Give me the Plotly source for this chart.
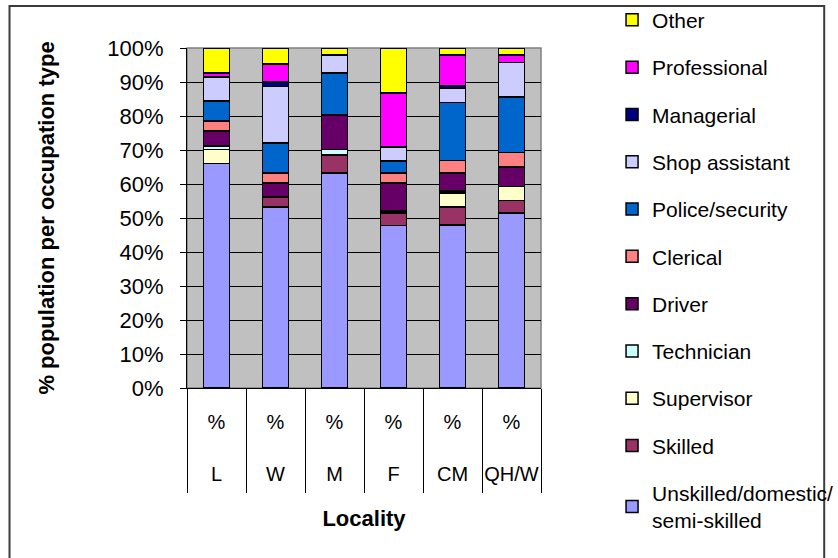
import plotly.graph_objects as go

categories = ["L", "W", "M", "F", "CM", "QH/W"]
row_label = "%"

unskilled = [66.1, 53.2, 63.3, 47.8, 48.0, 51.5]
skilled = [0.0, 3.0, 5.2, 3.7, 5.2, 3.6]
supervisor = [4.0, 0.0, 0.0, 0.5, 4.2, 4.1]
technician = [1.1, 0.0, 1.7, 0.0, 0.5, 0.0]
driver = [4.4, 4.1, 10.1, 8.3, 5.4, 5.8]
clerical = [2.9, 3.0, 0.0, 3.0, 3.6, 4.2]
police = [5.9, 8.8, 12.4, 3.4, 17.1, 16.4]
shop_assistant = [7.1, 16.6, 5.3, 4.2, 4.1, 10.1]
managerial = [0.0, 1.3, 0.0, 0.0, 0.7, 0.0]
professional = [1.2, 5.3, 0.0, 15.9, 9.2, 2.3]
other = [7.3, 4.7, 2.0, 13.2, 2.0, 2.0]

series = [
    ("Unskilled/domestic/<br>semi-skilled", unskilled, "#9999FF"),
    ("Skilled", skilled, "#993366"),
    ("Supervisor", supervisor, "#FFFFCC"),
    ("Technician", technician, "#CCFFFF"),
    ("Driver", driver, "#660066"),
    ("Clerical", clerical, "#FF8080"),
    ("Police/security", police, "#0066CC"),
    ("Shop assistant", shop_assistant, "#CCCCFF"),
    ("Managerial", managerial, "#000080"),
    ("Professional", professional, "#FF00FF"),
    ("Other", other, "#FFFF00"),
]

FONT = "Liberation Sans, Arial, sans-serif"
FS = 22

fig = go.Figure()
n = len(series)
for i, (name, vals, color) in enumerate(series):
    fig.add_trace(go.Bar(
        x=categories, y=vals, name=name,
        marker=dict(color=color, line=dict(color="black", width=1.5)),
        width=0.44, legendgroup="g%d" % i, legendrank=100 + (n - i),
    ))

fig.update_layout(
    width=838, height=558,
    barmode="stack",
    paper_bgcolor="white",
    plot_bgcolor="#C0C0C0",
    margin=dict(l=187, r=297, t=48, b=170, autoexpand=False),
    font=dict(family=FONT, size=FS, color="black"),
    showlegend=True,
    legend=dict(
        x=1.2007, y=1.142, xanchor="left", yanchor="top",
        traceorder="grouped", tracegroupgap=17, maxheight=600,
        font=dict(family=FONT, size=21, color="black"),
        bgcolor="rgba(0,0,0,0)",
    ),
    xaxis=dict(
        type="category",
        tickmode="array", tickvals=categories,
        ticktext=[row_label + "<br><br>" + c for c in categories],
        tickangle=0,
        tickson="boundaries", ticks="outside", ticklen=104,
        tickcolor="black", tickwidth=1,
        ticklabelstandoff=16,
        showline=True, linecolor="black", linewidth=1,
        showgrid=False,
        title=dict(text="<b>Locality</b>", font=dict(size=FS), standoff=26),
        tickfont=dict(size=20),
    ),
    yaxis=dict(
        range=[0, 100], dtick=10, ticksuffix="%",
        ticks="outside", ticklen=6, tickcolor="black",
        ticklabelstandoff=12,
        showline=True, linecolor="black", linewidth=1,
        showgrid=True, gridcolor="black", gridwidth=1,
        zeroline=False,
        title=dict(text="<b>% population per occupation type</b>", font=dict(size=FS), standoff=46),
        tickfont=dict(size=FS),
    ),
    shapes=[
        dict(type="rect", xref="paper", yref="paper", x0=0, x1=1, y0=0, y1=1,
             line=dict(color="#808080", width=1.5), layer="below"),
        dict(type="rect", xref="paper", yref="paper", x0=-0.5014, x1=1.8, y0=-0.54, y1=1.1235,
             line=dict(color="#3c3c3c", width=2)),
    ],
)

fig.write_html("out.html")
